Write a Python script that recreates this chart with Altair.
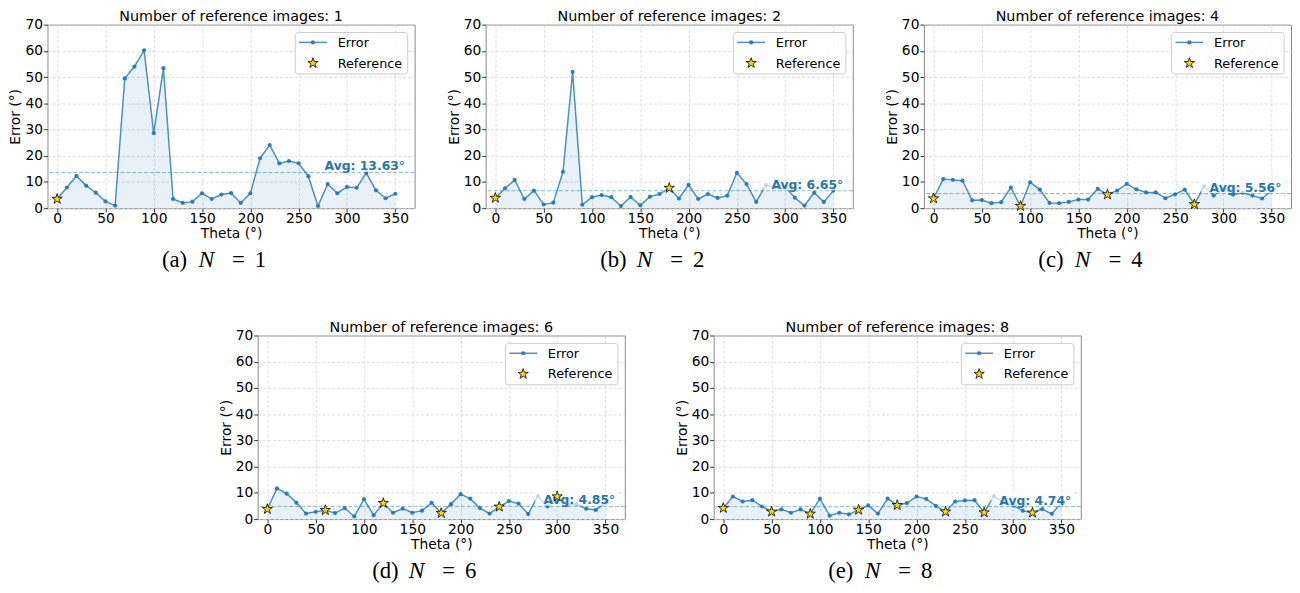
import math
import altair as alt
import pandas as pd

# ---------------- data ----------------
THETA = [0, 10, 20, 30, 40, 50, 60, 70, 80, 90, 100, 110, 120, 130, 140, 150, 160, 170,
         180, 190, 200, 210, 220, 230, 240, 250, 260, 270, 280, 290, 300, 310, 320, 330, 340, 350]

ERR_N1 = [3.5, 7.9, 12.3, 8.6, 5.9, 2.6, 1.0, 49.5, 54.0, 60.2, 28.6, 53.4, 3.5, 2.0, 2.5, 5.7, 3.5, 5.2,
          5.8, 2.0, 5.7, 19.0, 24.1, 17.1, 18.0, 17.1, 12.2, 0.8, 9.2, 5.7, 8.1, 7.8, 13.4, 6.8, 3.8, 5.5]
ERR_N2 = [3.9, 7.6, 10.8, 3.5, 6.7, 1.4, 2.1, 13.9, 52.0, 1.3, 4.2, 5.0, 4.2, 0.8, 4.3, 1.1, 4.4, 5.4,
          7.7, 3.7, 8.9, 3.5, 5.4, 3.9, 4.8, 13.5, 9.2, 2.4, 8.8, 7.8, 8.2, 4.0, 1.0, 5.9, 2.4, 6.7]
ERR_N4 = [3.7, 11.1, 10.8, 10.5, 3.0, 3.1, 1.9, 2.3, 7.9, 0.8, 9.9, 7.1, 2.0, 1.9, 2.4, 3.3, 3.3, 7.4,
          5.2, 6.7, 9.3, 7.2, 6.0, 6.0, 3.8, 5.3, 7.1, 1.5, 8.3, 4.8, 7.5, 5.2, 5.9, 4.8, 3.7, 6.7]
ERR_N6 = [3.8, 11.7, 9.7, 6.3, 2.1, 2.8, 3.4, 2.3, 4.2, 1.0, 7.6, 1.5, 6.1, 2.4, 4.0, 2.4, 3.2, 6.2,
          2.3, 5.7, 9.5, 7.8, 4.2, 2.1, 4.7, 6.9, 5.9, 1.9, 8.8, 4.8, 8.6, 5.4, 5.7, 3.9, 3.5, 6.3]
ERR_N8 = [4.2, 8.6, 6.7, 7.2, 4.8, 2.8, 3.7, 2.4, 3.7, 2.0, 7.8, 1.3, 2.4, 1.8, 3.5, 5.2, 2.1, 7.8,
          5.3, 6.1, 8.6, 7.7, 5.0, 2.8, 6.7, 7.1, 7.2, 2.5, 8.8, 6.3, 5.2, 3.2, 2.4, 3.8, 2.0, 6.3]

REF_N1 = [0]
REF_N2 = [0, 180]
REF_N4 = [0, 90, 180, 270]
REF_N6 = [0, 60, 120, 180, 240, 300]
REF_N8 = [0, 50, 90, 140, 180, 230, 270, 320]

AVG = [13.63, 6.65, 5.56, 4.85, 4.74]
N_VALUES = [1, 2, 4, 6, 8]
LETTERS = ["(a)", "(b)", "(c)", "(d)", "(e)"]

X_TICKS = [0, 50, 100, 150, 200, 250, 300, 350]
Y_TICKS = [0, 10, 20, 30, 40, 50, 60, 70]

ERRS = [ERR_N1, ERR_N2, ERR_N4, ERR_N6, ERR_N8]
REFS = [REF_N1, REF_N2, REF_N4, REF_N6, REF_N8]

# ---------------- style ----------------
W, H = 372, 186
BLUE = "#1f77b4"
GOLD = "#FFD700"
FONT = "DejaVu Sans"
SERIF = "Liberation Serif"
X_DOMAIN = [-10, 370]
Y_DOMAIN = [0, 70]
PX_PER_X = W / (X_DOMAIN[1] - X_DOMAIN[0])
PX_PER_Y = H / (Y_DOMAIN[1] - Y_DOMAIN[0])

pts = []
for k in range(10):
    r = 1.0 if k % 2 == 0 else 0.382
    a = math.radians(-90 + 36 * k)
    pts.append(f"{r * math.cos(a):.3f},{r * math.sin(a):.3f}")
STAR = "M" + "L".join(pts) + "Z"

X_AXIS = alt.Axis(values=X_TICKS, title="Theta (°)", labelPadding=0, titlePadding=1,
                  tickSize=4, labelFlush=False)
Y_AXIS = alt.Axis(values=Y_TICKS, title="Error (°)", labelPadding=1, tickSize=4,
                  minExtent=23, maxExtent=23, titlePadding=2)


def xenc(field):
    return alt.X(field, type="quantitative", scale=alt.Scale(domain=X_DOMAIN, nice=False, zero=False),
                 axis=X_AXIS, title="Theta (°)")


def yenc(field):
    return alt.Y(field, type="quantitative", scale=alt.Scale(domain=Y_DOMAIN, nice=False),
                 axis=Y_AXIS, title="Error (°)")


def one():
    return alt.Chart(pd.DataFrame({"k": [0]}))


def panel(i):
    df = pd.DataFrame({"theta": THETA, "error": ERRS[i]})
    refs = df[df["theta"].isin(REFS[i])]
    label = f"Avg: {AVG[i]:.2f}°"
    tw = len(label) * 7.8
    avgdf = pd.DataFrame({
        "avg": [AVG[i]], "label": [label], "xpos": [360],
        "bx0": [360 - (tw + 3) / PX_PER_X], "bx1": [360 + 3 / PX_PER_X],
        "by0": [AVG[i] + 0.6 / PX_PER_Y], "by1": [AVG[i] + 15 / PX_PER_Y],
    })
    base = alt.Chart(df).encode(x=xenc("theta"), y=yenc("error"))
    area = base.mark_area(color=BLUE, opacity=0.1)
    line = base.mark_line(color=BLUE, strokeWidth=1.5, opacity=0.8)
    dots = base.mark_circle(color=BLUE, size=18, opacity=0.9)
    rule = alt.Chart(avgdf).mark_rule(color=BLUE, strokeDash=[4, 2], opacity=0.55, strokeWidth=1).encode(
        y=yenc("avg"))
    box = alt.Chart(avgdf).mark_rect(color="white", opacity=0.7).encode(
        x=xenc("bx0"), x2="bx1", y=yenc("by0"), y2="by1")
    txt = alt.Chart(avgdf).mark_text(align="right", baseline="alphabetic", dy=-2, fontWeight="bold",
                                     fontSize=12.5, font=FONT, color=BLUE).encode(
        x=xenc("xpos"), y=yenc("avg"), text="label:N")
    stars = alt.Chart(refs).mark_point(shape=STAR, size=120, filled=True, fill=GOLD, stroke="black",
                                       strokeWidth=0.8, opacity=1).encode(x=xenc("theta"), y=yenc("error"))
    # legend (drawn)
    lg_box = one().mark_rect(fill="white", stroke="#cccccc", strokeWidth=1, cornerRadius=3,
                             fillOpacity=0.8).encode(
        x=alt.value(251), x2=alt.value(365), y=alt.value(8), y2=alt.value(50))
    lg_line = one().mark_rule(color=BLUE, strokeWidth=1.5, opacity=0.8).encode(
        x=alt.value(255), x2=alt.value(283), y=alt.value(18))
    lg_dot = one().mark_circle(color=BLUE, size=18, opacity=0.9).encode(x=alt.value(269), y=alt.value(18))
    lg_star = one().mark_point(shape=STAR, size=120, filled=True, fill=GOLD, stroke="black",
                               strokeWidth=0.8, opacity=1).encode(x=alt.value(269), y=alt.value(39))
    lg_t1 = one().mark_text(align="left", baseline="middle", fontSize=13, font=FONT, color="black").encode(
        x=alt.value(294), y=alt.value(18.5), text=alt.value("Error"))
    lg_t2 = one().mark_text(align="left", baseline="middle", fontSize=13, font=FONT, color="black").encode(
        x=alt.value(294), y=alt.value(39.5), text=alt.value("Reference"))
    # sub-caption
    cap_y = H + 60
    cap = []
    for s, xx, style, fs in [(LETTERS[i], 116, "normal", 23), ("N", 153, "italic", 24),
                             ("=", 187, "normal", 23), (str(N_VALUES[i]), 210, "normal", 23)]:
        cap.append(one().mark_text(align="left", baseline="alphabetic", fontSize=fs, font=SERIF,
                                   fontStyle=style, color="black").encode(
            x=alt.value(xx), y=alt.value(cap_y), text=alt.value(s)))
    layers = [area, line, dots, rule, box, txt, stars, lg_box, lg_line, lg_dot, lg_star, lg_t1, lg_t2] + cap
    return alt.layer(*layers).properties(
        width=W, height=H,
        title=alt.TitleParams(f"Number of reference images: {N_VALUES[i]}", fontSize=14.5,
                              fontWeight="normal", font=FONT, color="black", offset=-7,
                              frame="group", anchor="middle"),
    )


row1 = alt.hconcat(panel(0), panel(1), panel(2), spacing=31)
row2 = alt.hconcat(panel(3), panel(4), spacing=49)
chart = alt.vconcat(row1, row2, spacing=47, center=True).properties(
    padding={"left": 0, "top": -3, "right": 0, "bottom": 0}
).configure_view(stroke="#888888", strokeWidth=1).configure_axis(
    grid=True, gridColor="#d5d5d5", gridDash=[3, 2], gridWidth=0.8,
    domain=False, tickColor="#333333", labelFont=FONT, labelFontSize=14, labelColor="black",
    titleFont=FONT, titleFontSize=14, titleFontWeight="normal", titleColor="black",
).configure_title(
    font=FONT, fontSize=14.5, fontWeight="normal", color="black", offset=-7, frame="group", anchor="middle"
)

chart.save("out.html", embed_options={"renderer": "svg", "actions": False})
